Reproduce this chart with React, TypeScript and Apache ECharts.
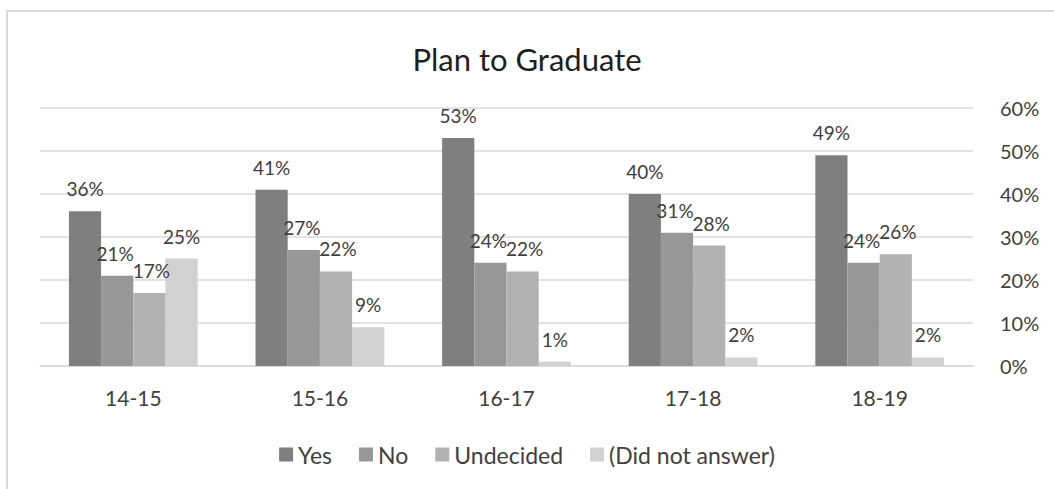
import React, { useEffect, useRef } from "react";
import * as echarts from "echarts";

const categories = ["14-15", "15-16", "16-17", "17-18", "18-19"];
const seriesNames = ["Yes", "No", "Undecided", "(Did not answer)"];
const yesValues = [36, 41, 53, 40, 49];
const noValues = [21, 27, 24, 31, 24];
const undecidedValues = [17, 22, 22, 28, 26];
const didNotAnswerValues = [25, 9, 1, 2, 2];
const seriesColors = ["#7f7f7f", "#979797", "#b2b2b2", "#d1d1d1"];
const labelShift = [0, -2, 2, 0];
const yMax = 60;
const yInterval = 10;

const FONT = "Lato, 'Noto Sans', sans-serif";

export default function App() {
  const ref = useRef<HTMLDivElement>(null);
  useEffect(() => {
    if (!ref.current) return;
    const chart = echarts.init(ref.current, undefined, { renderer: "svg" });
    const data = [yesValues, noValues, undecidedValues, didNotAnswerValues];
    chart.setOption({
      animation: false,
      backgroundColor: "#ffffff",
      textStyle: { fontFamily: FONT },
      title: {
        text: "Plan to Graduate",
        left: "center",
        top: 38,
        textStyle: { fontFamily: FONT, fontSize: 31, fontWeight: "normal", color: "#1e1e1e" },
      },
      graphic: [
        {
          type: "rect",
          shape: { x: 7, y: 11, width: 1200, height: 700 },
          style: { fill: "none", stroke: "#d9d9d9", lineWidth: 2 },
          silent: true,
        },
      ],
      legend: {
        bottom: 18,
        left: "center",
        itemWidth: 14,
        itemHeight: 14,
        itemGap: 27,
        icon: "rect",
        textStyle: { fontFamily: FONT, fontSize: 23, color: "#404040" },
        data: seriesNames,
      },
      grid: { left: 40, right: 81, top: 108, bottom: 123, containLabel: false },
      xAxis: {
        type: "category",
        data: categories,
        axisLine: { lineStyle: { color: "#d9d9d9", width: 1.5 } },
        axisTick: { show: false },
        axisLabel: { fontFamily: FONT, fontSize: 21, color: "#404040", margin: 21 },
      },
      yAxis: {
        type: "value",
        position: "right",
        min: 0,
        max: yMax,
        interval: yInterval,
        axisLine: { show: false },
        axisTick: { show: false },
        splitLine: { lineStyle: { color: "#d9d9d9", width: 1.5 } },
        axisLabel: {
          formatter: "{value}%",
          fontFamily: FONT,
          fontSize: 20,
          color: "#404040",
          margin: 27,
        },
      },
      series: seriesNames.map((name, i) => ({
        name,
        type: "bar",
        data: data[i],
        barGap: "0%",
        barCategoryGap: "31%",
        itemStyle: { color: seriesColors[i] },
        label: {
          show: true,
          position: "top",
          distance: 13,
          offset: [labelShift[i], 0],
          formatter: "{c}%",
          fontFamily: FONT,
          fontSize: 19,
          color: "#404040",
        },
      })),
    });
    return () => chart.dispose();
  }, []);
  return (
    <div
      ref={ref}
      style={{ position: "fixed", left: 0, top: 0, width: 1054, height: 489 }}
    />
  );
}
